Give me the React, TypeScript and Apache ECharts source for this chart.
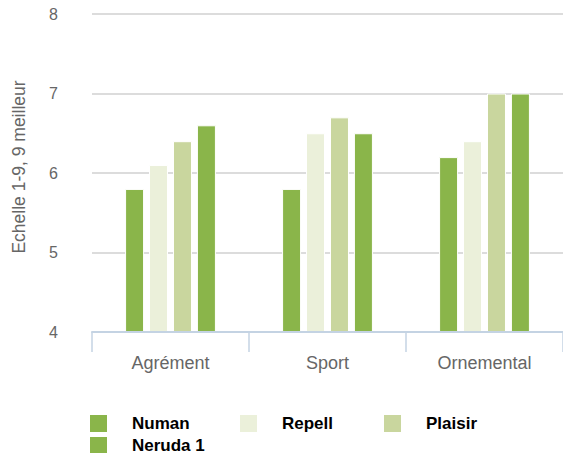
import React, { useEffect, useRef } from "react";
import * as echarts from "echarts";

const categories = ["Agrément", "Sport", "Ornemental"];
const seriesNames = ["Numan", "Repell", "Plaisir", "Neruda 1"];
const numan = [5.8, 5.8, 6.2];
const repell = [6.1, 6.5, 6.4];
const plaisir = [6.4, 6.7, 7.0];
const neruda = [6.6, 6.5, 7.0];
const colors = ["#8ab54a", "#ebf0da", "#c9d69e", "#8ab54a"];
const yTicks = { min: 4, max: 8, interval: 1 };
const yTitle = "Echelle 1-9, 9 meilleur";

const FONT = '"Liberation Sans", Arial, sans-serif';

export default function App() {
  const ref = useRef<HTMLDivElement>(null);
  useEffect(() => {
    if (!ref.current) return;
    const chart = echarts.init(ref.current, undefined, { renderer: "svg" });
    const values = [numan, repell, plaisir, neruda];
    const legendPos = [
      { left: 88, top: 413 },
      { left: 238, top: 413 },
      { left: 382, top: 413 },
      { left: 88, top: 435 },
    ];
    chart.setOption({
      animation: false,
      textStyle: { fontFamily: FONT },
      grid: { left: 92, right: -4, top: 14, bottom: 121, containLabel: false },
      legend: seriesNames.map((n, i) => ({
        data: [n],
        left: legendPos[i].left,
        top: legendPos[i].top,
        padding: 0,
        itemWidth: 19,
        itemHeight: 19,
        icon: "rect",
        selectedMode: false,
        textStyle: {
          fontFamily: FONT,
          fontSize: 17,
          fontWeight: "bold",
          color: "#000",
          padding: [0, 0, 0, 19],
        },
      })),
      xAxis: {
        type: "category",
        data: categories,
        z: 10,
        axisLine: { show: true, onZero: false, lineStyle: { color: "#c4d3e3", width: 2 } },
        axisTick: { show: true, length: 20, lineStyle: { color: "#c4d3e3", width: 1.5 } },
        axisLabel: { color: "#666", fontSize: 18, margin: 22, fontFamily: FONT },
      },
      yAxis: {
        type: "value",
        min: yTicks.min,
        max: yTicks.max,
        interval: yTicks.interval,
        name: yTitle,
        nameLocation: "middle",
        nameGap: 64,
        nameTextStyle: { color: "#666", fontSize: 17.5, fontFamily: FONT, padding: [0, 0, 0, 12] },
        axisLine: { show: false },
        axisTick: { show: false },
        axisLabel: { color: "#666", fontSize: 16, margin: 34, padding: [7, 0, 0, 0], fontFamily: FONT },
        splitLine: { lineStyle: { color: "#dcdcdc", width: 2 } },
      },
      series: seriesNames.map((n, i) => ({
        name: n,
        type: "bar",
        data: values[i],
        barWidth: 19,
        barGap: "26%",
        itemStyle: { color: colors[i], borderColor: "#fff", borderWidth: 1 },
      })),
    });
    return () => chart.dispose();
  }, []);
  return (
    <div
      ref={ref}
      style={{ position: "absolute", left: 0, top: 0, width: 563, height: 453 }}
    />
  );
}
